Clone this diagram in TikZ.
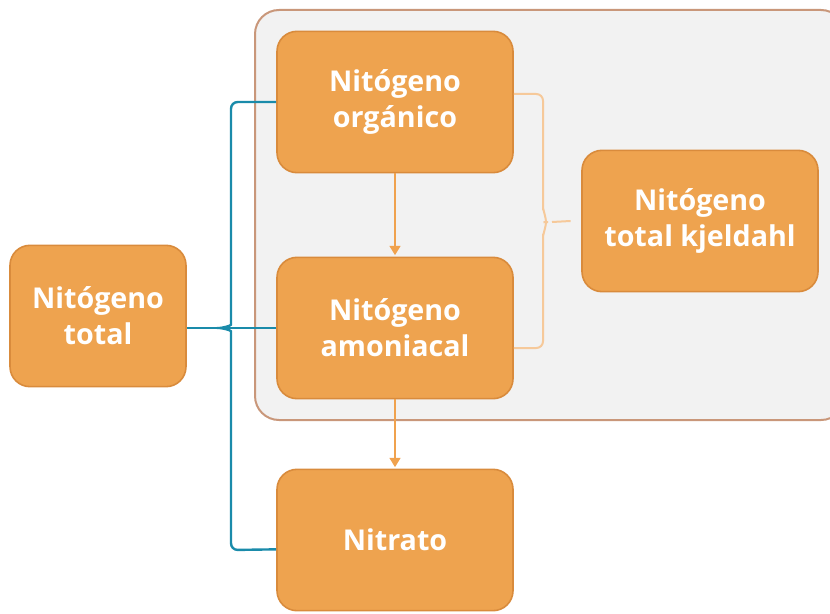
\documentclass[tikz,border=0pt]{standalone}
\usepackage{fontspec}
\setmainfont{Open Sans}
\usetikzlibrary{arrows.meta}

\begin{document}
\begin{tikzpicture}[x=0.75pt,y=-0.75pt,>=Triangle]

% colors
\definecolor{cBox}{HTML}{EEA34F}
\definecolor{cBoxEdge}{HTML}{D98B3C}
\definecolor{cPanel}{HTML}{F2F2F2}
\definecolor{cPanelEdge}{HTML}{C9977A}
\definecolor{cTeal}{HTML}{1A8BAA}
\definecolor{cBrace}{HTML}{F6C99A}
\definecolor{cArrow}{HTML}{F0A24E}

\tikzset{
  nbox/.style={draw=cBoxEdge,line width=1.2pt,fill=cBox,rounded corners=15pt,
    minimum width=177pt,minimum height=106pt,align=center,text=white,
    font=\fontsize{21.5}{27}\selectfont\bfseries},
  flow/.style={cArrow,line width=1.5pt,->,shorten >=1pt},
}

\useasboundingbox (0,0) rectangle (830,613);

% grey panel behind the kjeldahl group
\draw[cPanelEdge,fill=cPanel,line width=1.5pt,rounded corners=18pt]
  (255,10) rectangle (845,420);

% boxes
\node[nbox] (organico) at (395,102) {Nitógeno\\orgánico};
\node[nbox] (amoniacal) at (395,328) {Nitógeno\\amoniacal};
\node[nbox] (nitrato) at (395,540) {Nitrato};
\node[nbox,minimum width=132pt] (total) at (98,316) {Nitógeno\\total};
\node[nbox] (kjeldahl) at (700,221) {Nitógeno\\total kjeldahl};

% vertical flow
\draw[flow] (organico) -- (amoniacal);
\draw[flow] (amoniacal) -- (nitrato);

% teal brace gathering the three forms
\coordinate (tcusp) at (213,328);
\draw[cTeal,line width=1.8pt,rounded corners=5pt]
  (organico.west) -- (231,102) -- (231,318)
  to[out=270,in=0] (tcusp) to[out=0,in=90] (231,338)
  -- (231,550) -- ([yshift=-7pt]nitrato.west);
\draw[cTeal,line width=1.8pt] (amoniacal.west) -- (amoniacal.west -| total.east);

% light brace for total kjeldahl
\coordinate (kcusp) at (552,222);
\coordinate (ktip) at ([xshift=-8pt]kjeldahl.west);
\draw[cBrace,line width=1.5pt,rounded corners=5pt]
  ([yshift=6pt]organico.east) -- (543,94) -- (543,214)
  to[out=90,in=180] (kcusp) to[out=180,in=270] (543,230)
  -- (543,348) -- ([yshift=-15pt]amoniacal.east);
\draw[cBrace,line width=1.5pt] (kcusp) -- (ktip);

\end{tikzpicture}
\end{document}
